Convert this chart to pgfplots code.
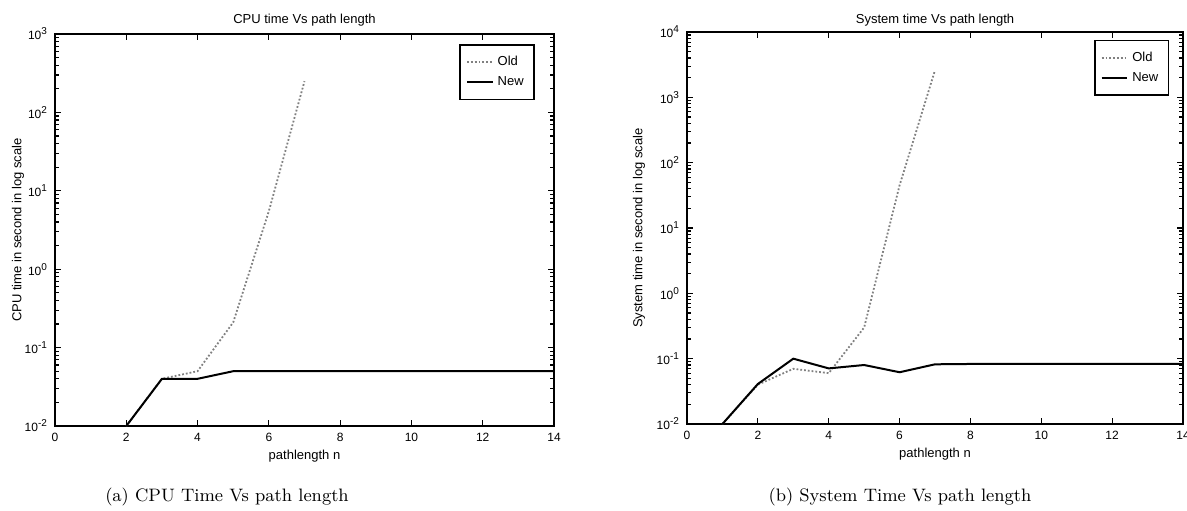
\documentclass[border=0pt]{standalone}
\usepackage{fontspec}
\usepackage{pgfplots}
\pgfplotsset{compat=1.18}
\newfontfamily\axfont{Liberation Sans}

\pgfplotstableread{
x y
2 0.01
3 0.04
4 0.04
5 0.05
6 0.05
7 0.05
8 0.05
9 0.05
10 0.05
11 0.05
12 0.05
13 0.05
14 0.05
}\cpunew
\pgfplotstableread{
x y
2 0.01
3 0.04
4 0.05
5 0.21
6 5.5
7 250
}\cpuold
\pgfplotstableread{
x y
1 0.01
2 0.041
3 0.10
4 0.071
5 0.080
6 0.062
7 0.082
8 0.083
9 0.083
10 0.083
11 0.083
12 0.083
13 0.083
14 0.083
}\sysnew
\pgfplotstableread{
x y
1 0.01
2 0.04
3 0.07
4 0.06
5 0.30
6 45
7 2600
}\sysold

\begin{document}
\begin{tikzpicture}
\path[use as bounding box] (0,0) rectangle (593.5pt,255pt);

\begin{axis}[
  ymode=log, log basis y=10,
  scale only axis,
  at={(27.5pt,42pt)}, anchor=south west,
  width=249.5pt, height=196pt,
  xmin=0, xmax=14,
  ymin=1e-2, ymax=1e3,
  xtick={0,2,4,6,8,10,12,14},
  xticklabels={0,2,4,6,8,10,12,14},
  axis line style={line width=0.8pt},
  tick style={line width=0.6pt, black},
  major tick length=3pt,
  minor tick length=1.8pt,
  tick align=inside,
  ticklabel style={font=\axfont\fontsize{6}{7}\selectfont},
  yticklabel={10\textsuperscript{\pgfmathparse{int(round(\tick))}\pgfmathresult}},
  label style={font=\axfont\fontsize{6.5}{7.5}\selectfont},
  title style={font=\axfont\fontsize{6.5}{7.5}\selectfont, at={(0.5,1)}, anchor=center, yshift=1pt},
  xlabel style={at={(0.5,0)}, anchor=center, yshift=-15pt},
  title={CPU time Vs path length},
  xlabel={pathlength n},
  ylabel={CPU time in second in log scale},
  ylabel style={at={(rel axis cs:0,0.5)}, anchor=center, yshift=18.5pt},
  legend style={font=\axfont\fontsize{6.5}{8}\selectfont, draw=black, line width=0.8pt,
      at={(0.961,0.974)}, anchor=north east, inner ysep=3.5pt, inner xsep=3pt},
  legend cell align=left,
  legend image code/.code={\draw[#1] (0cm,0cm) -- (0.45cm,0cm);},
]
\addplot[black!50, densely dotted, line width=0.9pt] table[x=x,y=y] {\cpuold};
\addlegendentry{Old}
\addplot[black, line width=1pt] table[x=x,y=y] {\cpunew};
\addlegendentry{New}
\end{axis}

\begin{axis}[
  ymode=log, log basis y=10,
  scale only axis,
  at={(343.5pt,43pt)}, anchor=south west,
  width=248pt, height=196pt,
  xmin=0, xmax=14,
  ymin=1e-2, ymax=1e4,
  xtick={0,2,4,6,8,10,12,14},
  xticklabels={0,2,4,6,8,10,12,14},
  axis line style={line width=0.8pt},
  tick style={line width=0.6pt, black},
  major tick length=3pt,
  minor tick length=1.8pt,
  tick align=inside,
  ticklabel style={font=\axfont\fontsize{6}{7}\selectfont},
  yticklabel={10\textsuperscript{\pgfmathparse{int(round(\tick))}\pgfmathresult}},
  label style={font=\axfont\fontsize{6.5}{7.5}\selectfont},
  title style={font=\axfont\fontsize{6.5}{7.5}\selectfont, at={(0.5,1)}, anchor=center, yshift=0pt},
  xlabel style={at={(0.5,0)}, anchor=center, yshift=-15pt},
  title={System time Vs path length},
  xlabel={pathlength n},
  ylabel={System time in second in log scale},
  ylabel style={at={(rel axis cs:0,0.5)}, anchor=center, yshift=24pt},
  legend style={font=\axfont\fontsize{6.5}{8}\selectfont, draw=black, line width=0.8pt,
      at={(0.972,0.98)}, anchor=north east, inner ysep=3.5pt, inner xsep=3pt},
  legend cell align=left,
  legend image code/.code={\draw[#1] (0cm,0cm) -- (0.45cm,0cm);},
]
\addplot[black!50, densely dotted, line width=0.9pt] table[x=x,y=y] {\sysold};
\addlegendentry{Old}
\addplot[black, line width=1pt] table[x=x,y=y] {\sysnew};
\addlegendentry{New}
\end{axis}

\node[font=\fontsize{9}{11}\selectfont] at (113.5pt,6.5pt) {(a) CPU Time Vs path length};
\node[font=\fontsize{9}{11}\selectfont] at (450pt,6.5pt) {(b) System Time Vs path length};
\end{tikzpicture}
\end{document}
